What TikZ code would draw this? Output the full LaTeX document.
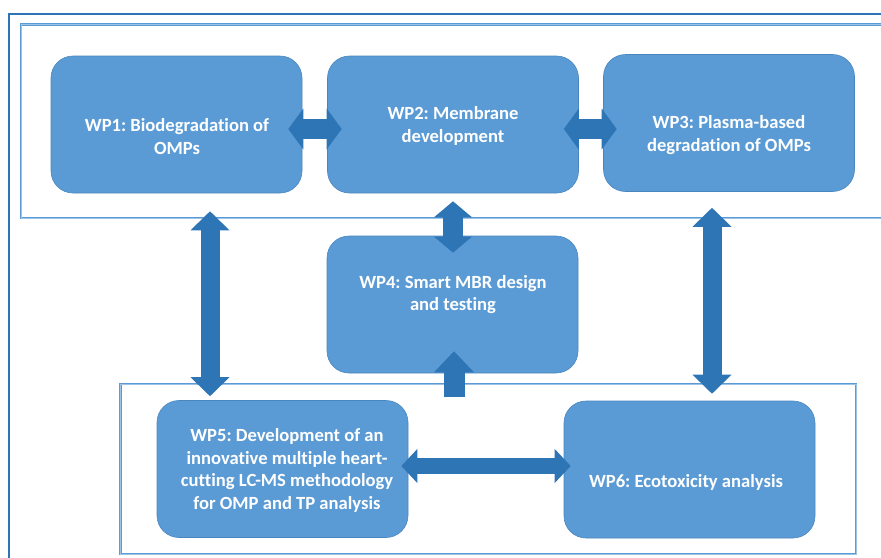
\documentclass[tikz,border=0pt]{standalone}
\usepackage{fontspec}
\setmainfont[Ligatures=NoCommon]{Carlito}
\usetikzlibrary{arrows.meta,calc}
\definecolor{wpfill}{HTML}{5B9BD5}
\definecolor{wpedge}{HTML}{4A86BE}
\definecolor{arrowblue}{HTML}{2E75B6}
\definecolor{framedark}{HTML}{2E75B6}
\definecolor{framelight}{HTML}{5B9BD5}
\definecolor{framecore}{HTML}{9DC3E6}
\frenchspacing
\begin{document}
\begin{tikzpicture}[x=1pt,y=-1pt,
  wpbox/.style={draw=wpedge, line width=0.6pt, fill=wpfill, rounded corners=22pt,
    minimum width=251pt, minimum height=137pt, inner sep=0pt},
  wptext/.style={text=white, font=\fontsize{18.6}{22.5}\selectfont\bfseries\frenchspacing,
    align=center, inner sep=0pt},
  groupframe/.style={draw=framelight, line width=0.9pt, double=framecore, double distance=0.6pt},
  blockarrow/.style n args={3}{draw=arrowblue, line width=#1,
    {Triangle[width=#2,length=#3,line width=0pt]}-{Triangle[width=#2,length=#3,line width=0pt]}},
  singlearrow/.style n args={3}{draw=arrowblue, line width=#1,
    -{Triangle[width=#2,length=#3,line width=0pt]}}
]
\useasboundingbox (0,0) rectangle (881,557);
\clip (0,0) rectangle (881,557);

% outer page frame
\draw[framedark, line width=2pt] (9,14) rectangle (900,580);
% group frames
\draw[groupframe] (21,24.5) rectangle (900,218);
\draw[groupframe] (120.5,384) rectangle (856,554);

% work packages
\node[wpbox] (wp1) at (176.5,124.5) {};
\node[wpbox] (wp2) at (453,124.5) {};
\node[wpbox] (wp3) at (729,123) {};
\node[wpbox] (wp4) at (452.5,304.5) {};
\node[wpbox] (wp5) at (282.5,469) {};
\node[wpbox] (wp6) at (689.5,469.5) {};

\node[wptext] (t1) at ($(wp1.center)+(0.5,12)$) {WP1: Biodegradation of\\OMPs};
\node[wptext] (t2) at ($(wp2.center)+(0,1.5)$) {WP2: Membrane\\development};
\node[wptext] (t3) at ($(wp3.center)+(0,12)$) {WP3: Plasma-based\\degradation of OMPs};
\node[wptext] (t4) at ($(wp4.center)+(0.5,-10)$) {WP4: Smart MBR design\\and testing};
\node[wptext] (t5) at ($(wp5.center)+(4.5,1.5)$) {WP5: Development of an\\innovative multiple heart-\\cutting LC-MS methodology\\for OMP and TP analysis};
\node[wptext] (t6) at ($(wp6.center)+(-3.5,12.5)$) {WP6: Ecotoxicity analysis};

% links between work packages
\draw[blockarrow={20pt}{41pt}{15pt}] ($(wp1.east)+(-14,4.5)$) -- ($(wp2.west)+(14.5,4.5)$);
\draw[blockarrow={20pt}{41pt}{15pt}] ($(wp2.east)+(-15,4.5)$) -- ($(wp3.west)+(13.5,6)$);
\draw[blockarrow={20pt}{38pt}{16pt}] ($(wp2.south)+(0,8)$) -- ($(wp4.north)+(0.5,17)$);
\draw[blockarrow={19pt}{39pt}{19pt}] ($(wp1.south)+(33.5,18)$) -- ($(wp5.north)+(-72.5,-4)$);
\draw[blockarrow={19pt}{39pt}{19pt}] ($(wp3.south)+(-17,16)$) -- ($(wp6.north)+(22.5,-7)$);
\draw[blockarrow={16pt}{34pt}{16pt}] ($(wp5.east)+(-7,-3)$) -- ($(wp6.west)+(7,-3.5)$);
\coordinate (grouptop) at (454,397);
\draw[singlearrow={21pt}{40pt}{21pt}] (grouptop) -- ($(wp4.south)+(1.5,-22)$);
\end{tikzpicture}
\end{document}
